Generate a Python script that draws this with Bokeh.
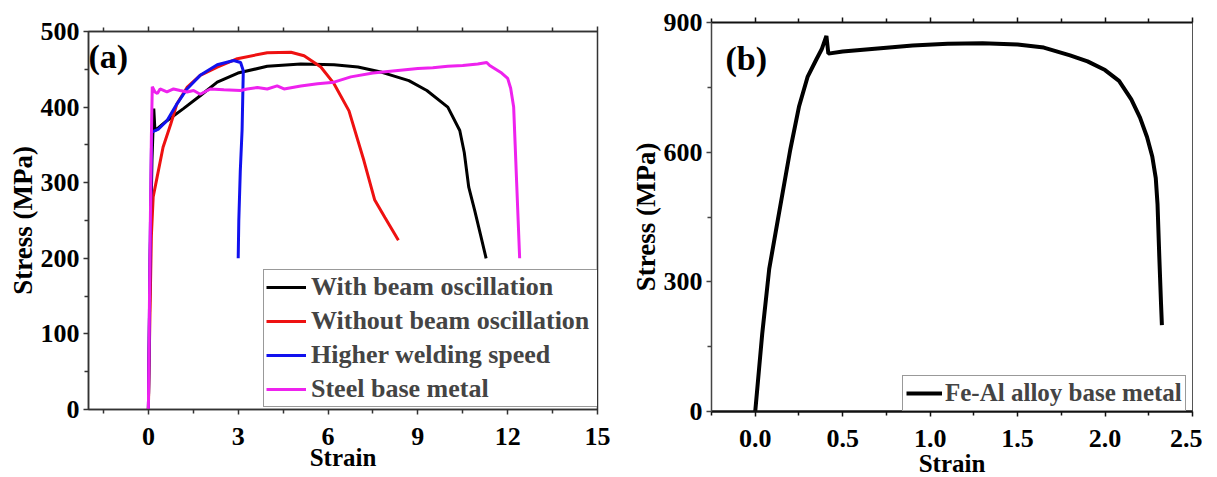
import math
from bokeh.plotting import figure
from bokeh.models import (LinearAxis, FixedTicker, Label, Legend, LegendItem,
                          Range1d, NumeralTickFormatter)
from bokeh.layouts import row, column
from bokeh.embed import file_html
from bokeh.resources import INLINE

# ---------------- data: panel (a) ----------------
with_osc_strain = [0, 0.06, 0.12, 0.18, 0.22, 0.35, 0.62, 1.17, 1.73, 2.3, 2.99, 3.97, 5.09, 6.2,
                   7.0, 7.8, 8.7, 9.3, 10.0, 10.4, 10.55, 10.7, 10.9, 11.1, 11.28]
with_osc_stress = [0, 200, 330, 398, 369, 373, 382, 398, 415, 433, 445, 454, 457, 456,
                   453, 446, 435, 422, 400, 369, 340, 294, 263, 230, 200]

without_osc_strain = [0, 0.05, 0.1, 0.16, 0.29, 0.49, 0.75, 0.95, 1.29, 1.73, 2.3, 2.97, 3.97, 4.76,
                      5.2, 5.76, 6.2, 6.7, 7.2, 7.56, 7.9, 8.35]
without_osc_stress = [0, 120, 230, 281, 307, 347, 378, 404, 426, 442, 453, 464, 472, 472.6,
                      468, 453, 431, 395, 329, 277, 254, 224]

higher_speed_strain = [0, 0.06, 0.11, 0.34, 0.62, 0.95, 1.29, 1.73, 2.3, 2.85, 3.08, 3.17, 3.13,
                       3.07, 3.02, 3.0]
higher_speed_stress = [0, 220, 367, 371, 382, 404, 424, 442, 456, 461.6, 459, 448, 370,
                       316, 250, 200]

steel_strain = [0, 0.05, 0.1, 0.13, 0.22, 0.3, 0.39, 0.62, 0.84, 1.06, 1.29, 1.51, 1.73, 2.07,
                2.52, 3.08, 3.3, 3.64, 3.97, 4.3, 4.53, 5.09, 5.65, 6.2, 6.76, 7.5, 8.0, 8.5,
                9.0, 9.5, 10.0, 10.5, 11.0, 11.3, 11.4, 11.6, 11.8, 12.0, 12.1, 12.2, 12.25,
                12.3, 12.35, 12.4]
steel_stress = [0, 200, 360, 427, 420, 418, 424, 420, 424, 422, 420, 422, 417, 424,
                423, 422, 424, 426, 424, 428, 424, 428, 431, 433, 440, 445, 447, 449,
                451, 452, 454, 455, 457, 459, 455, 450, 445, 438, 425, 400, 350,
                300, 250, 200]

# ---------------- data: panel (b) ----------------
feal_strain = [0, 0.02, 0.04, 0.08, 0.13, 0.2, 0.25, 0.3, 0.35, 0.38, 0.407, 0.418, 0.5, 0.7,
               0.9, 1.1, 1.3, 1.5, 1.65, 1.8, 1.9, 2.0, 2.08, 2.15, 2.2, 2.24, 2.27, 2.29,
               2.3, 2.31, 2.32, 2.325]
feal_stress = [0, 90, 180, 330, 445, 605, 705, 775, 815, 838, 869, 828, 833, 840,
               847, 851, 852, 849, 842, 824, 810, 790, 765, 722, 680, 635, 590, 540,
               480, 360, 250, 200]

# ---------------- ticks ----------------
a_x_ticks = [0, 3, 6, 9, 12, 15]
a_x_minor = [-1.5, 1.5, 4.5, 7.5, 10.5, 13.5]
a_y_ticks = [0, 100, 200, 300, 400, 500]
a_y_minor = [50, 150, 250, 350, 450]
b_x_ticks = [0.0, 0.5, 1.0, 1.5, 2.0, 2.5]
b_x_minor = [-0.25, 0.25, 0.75, 1.25, 1.75, 2.25]
b_y_ticks = [0, 300, 600, 900]
b_y_minor = [150, 450, 750]

labels_a = ["With beam oscillation", "Without beam oscillation",
            "Higher welding speed", "Steel base metal"]
label_b = "Fe-Al alloy base metal"
x_title = "Strain"
y_title = "Stress (MPa)"

FONT = "Liberation Serif"


def style_axis(ax, size="26px", color="#333333", width=1.5):
    ax.major_label_text_font = FONT
    ax.major_label_text_font_style = "bold"
    ax.major_label_text_font_size = size
    ax.major_label_text_color = "black"
    ax.axis_label_text_font = FONT
    ax.axis_label_text_font_style = "bold"
    ax.axis_label_text_color = "black"
    ax.axis_line_color = color
    ax.axis_line_width = width
    ax.major_tick_line_color = color
    ax.minor_tick_line_color = color
    ax.major_tick_line_width = 1.5
    ax.minor_tick_line_width = 1.5
    ax.major_tick_in = 0
    ax.minor_tick_in = 0
    ax.major_tick_out = 5
    ax.minor_tick_out = 4


def add_axes(p, xt, xm, yt, ym, xfmt=None, bottom_w=1.5, bottom_c="#333333",
             top_w=1.5, left_w=1.5, left_c="#333333", xlab_standoff=-4):
    bx = LinearAxis(ticker=FixedTicker(ticks=xt, minor_ticks=xm))
    if xfmt:
        bx.formatter = xfmt
    style_axis(bx, color=bottom_c, width=bottom_w)
    bx.major_label_standoff = 13
    bx.axis_label = x_title
    bx.axis_label_text_font_size = "25px"
    bx.axis_label_standoff = xlab_standoff
    p.add_layout(bx, "below")
    ly = LinearAxis(ticker=FixedTicker(ticks=yt, minor_ticks=ym))
    style_axis(ly, color=left_c, width=left_w)
    ly.major_label_standoff = 4
    ly.axis_label = y_title
    ly.axis_label_text_font_size = "27px"
    ly.axis_label_standoff = 0
    p.add_layout(ly, "left")
    tx = LinearAxis(ticker=FixedTicker(ticks=xt, minor_ticks=xm))
    style_axis(tx, color=bottom_c, width=top_w)
    tx.major_label_overrides = {t: "" for t in xt}
    tx.major_label_text_font_size = "0px"
    tx.major_label_standoff = 0
    p.add_layout(tx, "above")


def text_label(p, **kw):
    lab = Label(text_font=FONT, text_font_style="bold", text_color="black", **kw)
    p.add_layout(lab)


def style_legend(leg, size, gw, pad, spacing, standoff, lw=None):
    leg.label_text_font = FONT
    leg.label_text_font_style = "bold"
    leg.label_text_font_size = size
    leg.glyph_width = gw
    leg.glyph_height = 26
    leg.label_height = 26
    if lw:
        leg.label_width = lw
    leg.spacing = spacing
    leg.padding = pad
    leg.margin = 0
    leg.label_standoff = standoff
    leg.border_line_color = "#333333"
    leg.border_line_width = 1.5
    leg.background_fill_alpha = 1


# ---------------- panel (a) ----------------
p1 = figure(frame_width=509, frame_height=378, x_range=Range1d(-2, 15), y_range=Range1d(0, 500),
            x_axis_type=None, y_axis_type=None, output_backend="svg", toolbar_location=None,
            min_border_left=88, min_border_right=23, min_border_top=31, min_border_bottom=40)
p1.outline_line_color = "#333333"
p1.outline_line_width = 1.5
add_axes(p1, a_x_ticks, a_x_minor, a_y_ticks, a_y_minor, xlab_standoff=-4)

colors = ["#000000", "#ee1111", "#1111ee", "#ee22ee"]
series = [(with_osc_strain, with_osc_stress), (without_osc_strain, without_osc_stress),
          (higher_speed_strain, higher_speed_stress), (steel_strain, steel_stress)]
rends = []
for (xs, ys), c in zip(series, colors):
    rends.append(p1.line(xs, ys, line_color=c, line_width=3))

leg1 = Legend(items=[LegendItem(label=l, renderers=[r]) for l, r in zip(labels_a, rends)],
              location=(175, 2))
style_legend(leg1, "26px", 40, 2, 4, 5, lw=286)
p1.add_layout(leg1)

text_label(p1, x=-2, y=467, text="(a)", text_font_size="34px", text_align="left",
           text_baseline="middle")

# ---------------- panel (b) ----------------
p2 = figure(frame_width=481, frame_height=389, x_range=Range1d(-0.25, 2.5), y_range=Range1d(0, 900),
            x_axis_type=None, y_axis_type=None, output_backend="svg", toolbar_location=None,
            min_border_left=91, min_border_right=10, min_border_top=22, min_border_bottom=40)
p2.outline_line_color = "#555555"
p2.outline_line_width = 1
add_axes(p2, b_x_ticks, b_x_minor, b_y_ticks, b_y_minor, xfmt=NumeralTickFormatter(format="0.0"),
         bottom_w=2.5, bottom_c="#111111", top_w=2.2, left_w=1.5, left_c="#444444",
         xlab_standoff=0)

r2 = p2.line(feal_strain, feal_stress, line_color="black", line_width=4)
leg2 = Legend(items=[LegendItem(label=label_b, renderers=[r2])], location=(191, 0))
style_legend(leg2, "25px", 36, 3, 0, 3)
p2.add_layout(leg2)

text_label(p2, x=-0.17, y=816, text="(b)", text_font_size="34px", text_align="left",
           text_baseline="middle")

layout = row(column(p1), column(p2), spacing=0)
open("out.html", "w").write(file_html(layout, INLINE))
